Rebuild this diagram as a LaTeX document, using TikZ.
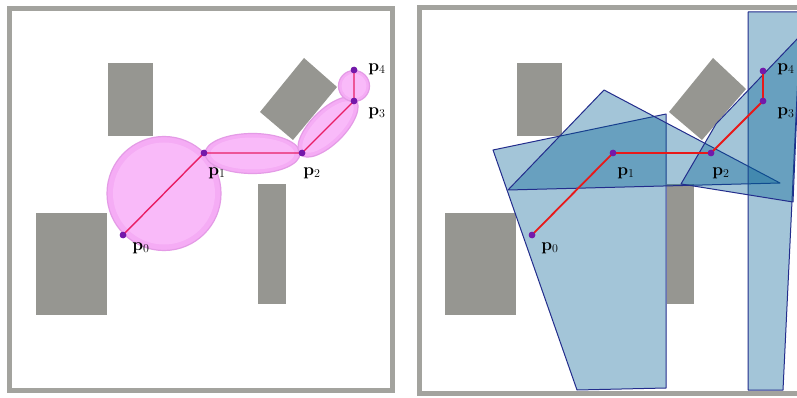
\documentclass[tikz,border=0pt]{standalone}
\usepackage{tikz}
\definecolor{framegray}{RGB}{163,163,158}
\definecolor{obgray}{RGB}{150,150,145}
\definecolor{pinkfill}{RGB}{245,172,245}
\definecolor{pinkin}{RGB}{249,186,249}
\definecolor{pinkedge}{RGB}{228,155,230}
\definecolor{crimsonl}{RGB}{232,30,100}
\definecolor{polyfill}{RGB}{2,97,147}
\definecolor{polyedge}{RGB}{35,45,140}
\definecolor{redpath}{RGB}{232,25,25}
\definecolor{dotpurple}{RGB}{115,25,170}
\begin{document}
\begin{tikzpicture}[x=1pt,y=-1pt,
  frame/.style={draw=framegray, line width=5pt},
  obst/.style={fill=obgray},
  ell/.style={fill=pinkfill, draw=pinkedge, line width=1.2pt},
  ellin/.style={fill=pinkin},
  poly/.style={fill=polyfill, fill opacity=0.36, draw=polyedge, line width=1pt, line join=round},
  lpath/.style={draw=crimsonl, line width=1.4pt},
  rpath/.style={draw=redpath, line width=1.8pt, line join=round},
  dot/.style={circle, fill=dotpurple, inner sep=0pt, minimum size=6.5pt},
  lab/.style={font=\fontsize{18}{18}\selectfont, inner sep=0pt}]
\useasboundingbox (0,0) rectangle (797,398);
\fill[white] (0,0) rectangle (797,398);
% ---------- left panel ----------
\fill[obst] (108,63) rectangle (153,136);
\fill[obst] (36,213) rectangle (107,315);
\fill[obst] (258,184) rectangle (286,304);
\fill[obst] (304,58) -- (337,87) -- (293,140) -- (260,112) -- cycle;
\draw[ell] (164,193.5) circle [radius=57pt];
\fill[ellin] (164,193.5) circle [radius=51pt];
\draw[ell] (252.5,153.5) ellipse [x radius=47.5pt, y radius=20pt];
\fill[ellin] (252.5,153.5) ellipse [x radius=42pt, y radius=16pt];
\draw[ell, shift={(328,127)}, rotate=45] (0,0) ellipse [x radius=39pt, y radius=17pt];
\fill[ellin, shift={(328,127)}, rotate=45] (0,0) ellipse [x radius=34pt, y radius=13pt];
\draw[ell] (354,86) circle [radius=15.5pt];
\fill[ellin] (354,86) circle [radius=12.5pt];
\node[dot] (a0) at (123,235) {};
\node[dot] (a1) at (204,153) {};
\node[dot] (a2) at (302,153) {};
\node[dot] (a3) at (354,101) {};
\node[dot] (a4) at (354,70) {};
\draw[lpath] (a0.center) -- (a1.center) -- (a2.center) -- (a3.center) -- (a4.center);
\foreach \n in {a0,a1,a2,a3,a4} \node[dot] at (\n) {};
\node[lab] (la0) at (141,248) {$\mathbf{p}_0$};
\node[lab] (la1) at (217,173) {$\mathbf{p}_1$};
\node[lab] (la2) at (312,173) {$\mathbf{p}_2$};
\node[lab] (la3) at (377,113) {$\mathbf{p}_3$};
\node[lab] (la4) at (377,69) {$\mathbf{p}_4$};
\draw[frame] (9.5,8.5) rectangle (392.5,390.5);
% ---------- right panel ----------
\fill[obst] (517,63) rectangle (562,136);
\fill[obst] (445,213) rectangle (516,315);
\fill[obst] (667,184) rectangle (694,304);
\fill[obst] (713,58) -- (746,89) -- (702,140) -- (669,112) -- cycle;
\draw[poly] (493,150) -- (666,114) -- (666,388) -- (577,390) -- cycle;
\draw[poly] (508,190) -- (604,90) -- (780,183) -- cycle;
\draw[poly] (748,12) -- (801,12) -- (783,390) -- (748,390) -- cycle;
\draw[poly] (681,184) -- (716,124) -- (800,36) -- (793,202) -- cycle;
\node[dot] (b0) at (532,235) {};
\node[dot] (b1) at (613,153) {};
\node[dot] (b2) at (711,153) {};
\node[dot] (b3) at (763,101) {};
\node[dot] (b4) at (763,71) {};
\draw[rpath] (b0.center) -- (b1.center) -- (b2.center) -- (b3.center) -- (b4.center);
\foreach \n in {b0,b1,b2,b3,b4} \node[dot] at (\n) {};
\node[lab] (lb0) at (550,248) {$\mathbf{p}_0$};
\node[lab] (lb1) at (626,173) {$\mathbf{p}_1$};
\node[lab] (lb2) at (721,173) {$\mathbf{p}_2$};
\node[lab] (lb3) at (786,113) {$\mathbf{p}_3$};
\node[lab] (lb4) at (786,69) {$\mathbf{p}_4$};
\draw[frame] (419,7.5) rectangle (800,393);
\end{tikzpicture}
\end{document}
